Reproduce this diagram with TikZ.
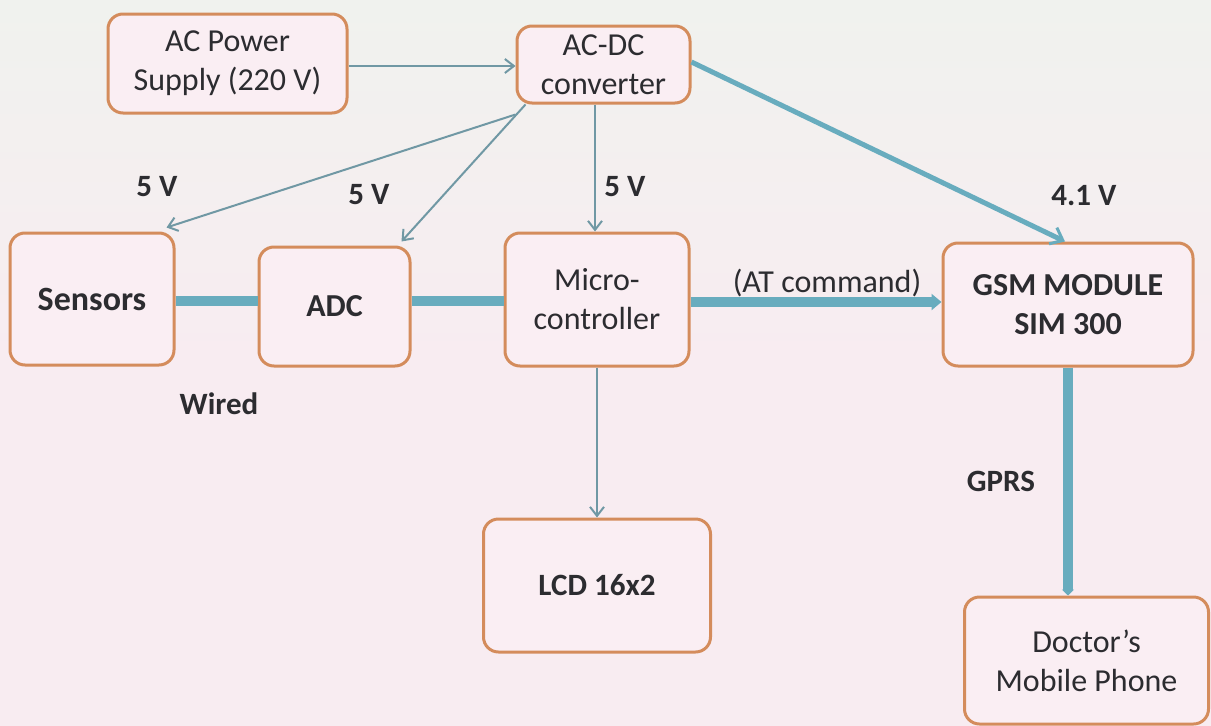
\documentclass[tikz,border=0pt]{standalone}
\usepackage{fontspec}
\setmainfont{Carlito}
\usetikzlibrary{arrows.meta}
\definecolor{bgpink}{RGB}{248,236,241}
\definecolor{bgtop}{RGB}{240,242,238}
\definecolor{boxfill}{RGB}{250,238,243}
\definecolor{boxedge}{RGB}{212,140,92}
\definecolor{thickc}{RGB}{104,172,190}
\definecolor{thinc}{RGB}{112,152,164}
\definecolor{txt}{RGB}{44,44,48}
\tikzset{
  blk/.style={draw=boxedge, line width=3pt, fill=boxfill, rounded corners=15pt,
    text=txt, align=center, inner sep=0pt, font=\fontsize{32}{39}\selectfont},
  bblk/.style={blk, font=\fontsize{32}{39}\selectfont\bfseries},
  lbl/.style={text=txt, inner sep=0pt, font=\fontsize{31}{36}\selectfont\bfseries},
  thin/.style={draw=thinc, line width=2pt, -{Straight Barb[length=9pt,width=14pt,line width=2pt]}},
  mid/.style={draw=thickc, line width=5pt, -{Straight Barb[length=11pt,width=18pt,line width=3pt]}},
  thick/.style={draw=thickc, line width=10pt},
  thickarr/.style={draw=thickc, line width=10pt, -{Triangle[length=10pt,width=16pt]}},
  softarr/.style={draw=thickc, line width=10pt, -{Triangle[length=6pt,width=12pt]}},
}
\begin{document}
\begin{tikzpicture}[x=1pt,y=-1pt]
\useasboundingbox (0,0) rectangle (1211,726);
\shade[top color=bgtop, bottom color=bgpink, middle color=bgpink] (0,0) rectangle (1211,726);
% boxes
\node[blk, minimum width=239pt, minimum height=99pt] (ac) at (227.5,63.5) {AC Power\\Supply (220 V)};
\node[blk, minimum width=173pt, minimum height=77pt] (conv) at (603.5,64.5) {AC-DC\\converter};
\node[bblk, minimum width=164pt, minimum height=132pt, font=\fontsize{34}{40}\selectfont\bfseries] (sens) at (92,299) {Sensors};
\node[bblk, minimum width=151pt, minimum height=119pt] (adc) at (334.5,306.5) {ADC};
\node[blk, minimum width=184pt, minimum height=133pt] (mcu) at (597,299.5) {Micro-\\controller};
\node[bblk, minimum width=250pt, minimum height=123pt] (gsm) at (1068,304.5) {GSM MODULE\\SIM 300};
\node[bblk, minimum width=227pt, minimum height=133pt, font=\fontsize{31}{36}\selectfont\bfseries] (lcd) at (597,585.5) {LCD 16x2};
\node[blk, minimum width=244pt, minimum height=127pt] (phone) at (1086.5,660.5) {Doctor’s\\Mobile Phone};
% labels
\node[lbl] (l1) at (157,187) {5 V};
\node[lbl] (l2) at (369,195) {5 V};
\node[lbl] (l3) at (625,187) {5 V};
\node[lbl] (l4) at (1084,196) {4.1 V};
\node[lbl] (l5) at (219,404) {Wired};
\node[text=txt, inner sep=0pt, font=\fontsize{32}{37}\selectfont] (l6) at (827,283) {(AT command)};
\node[lbl] (l7) at (1001,481) {GPRS};
% connectors
\draw[thin] (ac.east |- 0,66) -- (conv.west |- 0,66);
\draw[thin] ([yshift=-10pt]conv.south west) -- ([xshift=-9pt,yshift=4pt]sens.north east);
\draw[thin] ([xshift=10pt]conv.south west) -- ([xshift=-10pt,yshift=4pt]adc.north east);
\draw[thin] (conv.south -| 595,0) -- (mcu.north -| 595,0);
\draw[mid] (conv.east |- 0,62) -- (gsm.north -| 1065,0);
\draw[thick] (sens.east |- 0,301) -- (adc.west |- 0,301);
\draw[thick] (adc.east |- 0,301) -- (mcu.west |- 0,301);
\draw[thickarr] (mcu.east |- 0,302) -- (gsm.west |- 0,302);
\draw[thin] (mcu.south -| 597,0) -- (lcd.north -| 597,0);
\draw[softarr] (gsm.south -| 1068,0) -- (phone.north -| 1068,0);
\end{tikzpicture}
\end{document}
